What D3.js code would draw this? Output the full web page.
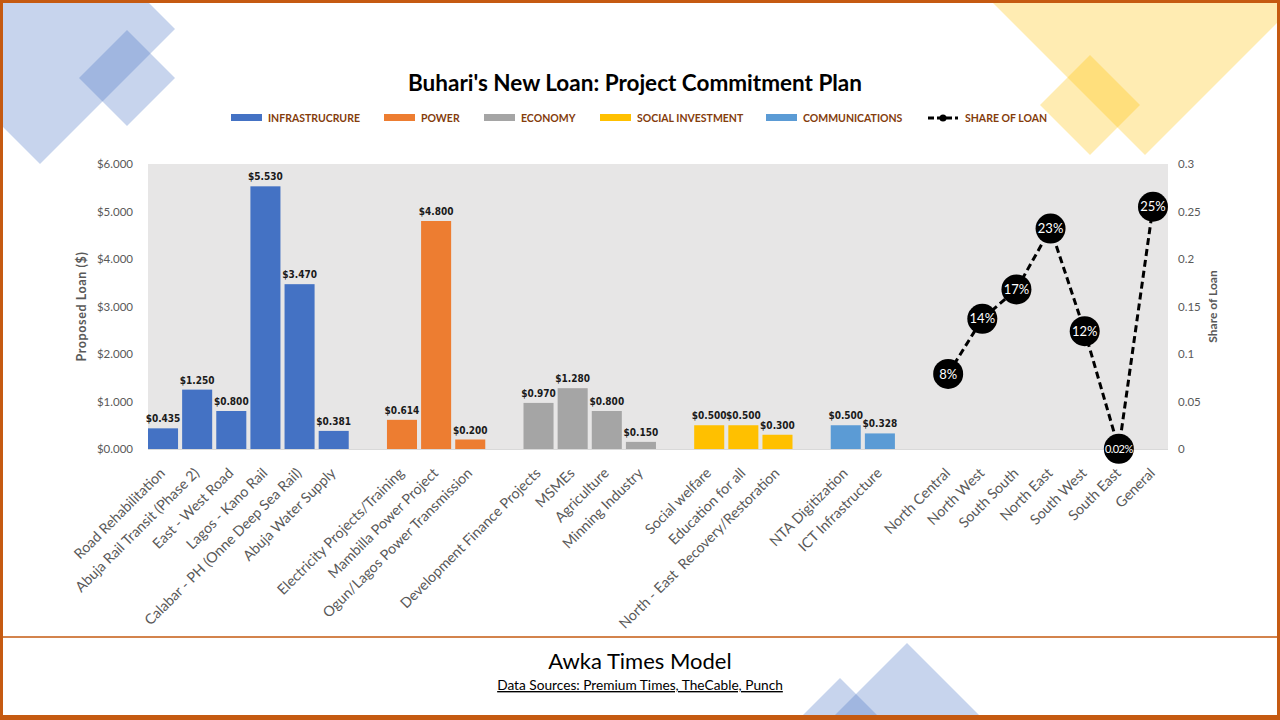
<!DOCTYPE html>
<html>
<head>
<meta charset="utf-8">
<script src="https://cdn.jsdelivr.net/npm/d3@7"></script>
<style>
  body { margin: 0; background: #fff; }
  svg { display: block; }
</style>
</head>
<body>
<svg class="chart"></svg>
<script>
    //data
    const seriesNames = ["INFRASTRUCRURE", "POWER", "ECONOMY", "SOCIAL INVESTMENT", "COMMUNICATIONS"]
    const infraProjects = ["Road Rehabilitation", "Abuja Rail Transit (Phase 2)", "East - West Road", "Lagos - Kano Rail", "Calabar - PH (Onne Deep Sea Rail)", "Abuja Water Supply"]
    const infraLoan = [0.435, 1.250, 0.800, 5.530, 3.470, 0.381]
    const powerProjects = ["Electricity Projects/Training", "Mambilla Power Project", "Ogun/Lagos Power Transmission"]
    const powerLoan = [0.614, 4.800, 0.200]
    const economyProjects = ["Development Finance Projects", "MSMEs", "Agriculture", "Minning Industry"]
    const economyLoan = [0.970, 1.280, 0.800, 0.150]
    const socialProjects = ["Social welfare", "Education for all", "North - East  Recovery/Restoration"]
    const socialLoan = [0.500, 0.500, 0.300]
    const commsProjects = ["NTA Digitization", "ICT Infrastructure"]
    const commsLoan = [0.500, 0.328]
    const regions = ["North Central", "North West", "South South", "North East", "South West", "South East", "General"]
    const shareOfLoan = [0.079, 0.137, 0.168, 0.232, 0.124, 0.0002, 0.255]
    const shareLabels = ["8%", "14%", "17%", "23%", "12%", "0.02%", "25%"]
    const loanTicks = [0, 1, 2, 3, 4, 5, 6]
    const shareTicks = [0, 0.05, 0.1, 0.15, 0.2, 0.25, 0.3]

    const seriesColors = ["#4472C4", "#ED7D31", "#A5A5A5", "#FFC000", "#5B9BD5"]

    //build one category list, an empty slot between groups
    const groups = [
        {projects: infraProjects, loan: infraLoan},
        {projects: powerProjects, loan: powerLoan},
        {projects: economyProjects, loan: economyLoan},
        {projects: socialProjects, loan: socialLoan},
        {projects: commsProjects, loan: commsLoan}
    ]
    const categories = []
    const bars = []
    groups.forEach((g, gi) => {
        g.projects.forEach((p, i) => {
            bars.push({idx: categories.length, value: g.loan[i], series: gi})
            categories.push(p)
        })
        categories.push("")
    })
    const points = regions.map((r, i) => {
        const p = {idx: categories.length, value: shareOfLoan[i], label: shareLabels[i]}
        categories.push(r)
        return p
    })

    //dimensions
    const w = 1280
    const h = 720
    const plot = {left: 148, right: 1168, top: 164, bottom: 449}

    const svg = d3.select('.chart')
        .attr('width', w)
        .attr('height', h)
        .attr('viewBox', `0 0 ${w} ${h}`)

    //background decoration
    const deco = svg.append('g')
    const diamond = (cx, cy, r) => `M${cx},${cy - r}L${cx + r},${cy}L${cx},${cy + r}L${cx - r},${cy}Z`
    deco.append('path').attr('d', diamond(40, 29, 135)).attr('fill', '#4472C4').attr('opacity', 0.3)
    deco.append('path').attr('d', diamond(127, 78, 48)).attr('fill', '#4472C4').attr('opacity', 0.3)
    deco.append('path').attr('d', diamond(1145, -25, 180)).attr('fill', '#FFC000').attr('opacity', 0.3)
    deco.append('path').attr('d', diamond(1090, 105, 50)).attr('fill', '#FFC000').attr('opacity', 0.3)
    deco.append('path').attr('d', 'M840,678L878,716L802,716Z').attr('fill', '#4472C4').attr('opacity', 0.3)
    deco.append('path').attr('d', 'M907,643L980,716L834,716Z').attr('fill', '#4472C4').attr('opacity', 0.3)

    //scales
    const xScale = d3.scaleBand()
        .domain(d3.range(categories.length))
        .range([plot.left, plot.right])
        .paddingInner(0.12)
        .paddingOuter(0)
    const yScale = d3.scaleLinear()
        .domain([0, 6])
        .range([plot.bottom, plot.top])
    const y2Scale = d3.scaleLinear()
        .domain([0, 0.3])
        .range([plot.bottom, plot.top])
    const cx = i => xScale(i) + xScale.bandwidth() / 2

    //plot area
    svg.append('rect')
        .attr('x', plot.left)
        .attr('y', plot.top)
        .attr('width', plot.right - plot.left)
        .attr('height', plot.bottom - plot.top)
        .attr('fill', '#E7E6E6')

    //axes
    const yAxis = d3.axisLeft(yScale)
        .tickValues(loanTicks)
        .tickFormat(d => '$' + d3.format('.3f')(d))
        .tickSize(0)
        .tickPadding(15)
    svg.append('g')
        .attr('transform', `translate(${plot.left}, 0)`)
        .call(yAxis)
        .call(g => g.select('.domain').remove())
        .selectAll('text')
        .attr('fill', '#595959')
        .style('font-family', 'Lato')
        .style('font-size', '11.5px')

    const y2Axis = d3.axisRight(y2Scale)
        .tickValues(shareTicks)
        .tickFormat(d => d3.format('~g')(d))
        .tickSize(0)
        .tickPadding(10)
    svg.append('g')
        .attr('transform', `translate(${plot.right}, 0)`)
        .call(y2Axis)
        .call(g => g.select('.domain').remove())
        .selectAll('text')
        .attr('fill', '#595959')
        .style('font-family', 'Lato')
        .style('font-size', '11.5px')

    svg.append('line')
        .attr('x1', plot.left)
        .attr('x2', plot.right)
        .attr('y1', plot.bottom + 0.5)
        .attr('y2', plot.bottom + 0.5)
        .attr('stroke', '#D9D9D9')

    //x labels
    svg.append('g')
        .selectAll('text')
        .data(categories)
        .join('text')
        .attr('transform', (d, i) => `translate(${cx(i) + 3}, 474) rotate(-45)`)
        .attr('text-anchor', 'end')
        .attr('fill', '#595959')
        .style('font-family', 'Lato')
        .style('font-size', '14.3px')
        .style('white-space', 'pre')
        .text(d => d)

    //bars
    svg.append('g')
        .selectAll('rect')
        .data(bars)
        .join('rect')
        .attr('x', d => xScale(d.idx))
        .attr('y', d => yScale(d.value))
        .attr('width', xScale.bandwidth())
        .attr('height', d => yScale(0) - yScale(d.value))
        .attr('fill', d => seriesColors[d.series])

    svg.append('g')
        .selectAll('text')
        .data(bars)
        .join('text')
        .attr('x', d => cx(d.idx))
        .attr('y', d => yScale(d.value) - 6)
        .attr('text-anchor', 'middle')
        .attr('fill', '#1a1a1a')
        .style('font-family', 'DejaVu Sans Condensed')
        .style('font-weight', 'bold')
        .style('font-size', '10px')
        .text(d => '$' + d3.format('.3f')(d.value))

    //share of loan line
    const line = d3.line()
        .x(d => cx(d.idx))
        .y(d => y2Scale(d.value))
    svg.append('path')
        .attr('d', line(points))
        .attr('fill', 'none')
        .attr('stroke', 'black')
        .attr('stroke-width', 3)
        .attr('stroke-dasharray', '7,4')

    const marks = svg.append('g')
        .selectAll('g')
        .data(points)
        .join('g')
        .attr('transform', d => `translate(${cx(d.idx)}, ${y2Scale(d.value)})`)
    marks.append('circle')
        .attr('r', 15)
        .attr('fill', 'black')
    marks.append('text')
        .attr('text-anchor', 'middle')
        .attr('dy', '0.35em')
        .attr('fill', 'white')
        .style('font-family', 'Lato')
        .style('font-size', d => d.label.length > 4 ? '11px' : '13px')
        .style('letter-spacing', d => d.label.length > 4 ? '-0.6px' : '0px')
        .text(d => d.label)

    //axis titles
    svg.append('text')
        .attr('transform', `translate(86, ${(plot.top + plot.bottom) / 2}) rotate(-90)`)
        .attr('text-anchor', 'middle')
        .attr('fill', '#595959')
        .style('font-family', 'Lato')
        .style('font-weight', 'bold')
        .style('font-size', '12.5px')
        .style('letter-spacing', '0.6px')
        .text('Proposed Loan ($)')
    svg.append('text')
        .attr('transform', `translate(1217, ${(plot.top + plot.bottom) / 2}) rotate(-90)`)
        .attr('text-anchor', 'middle')
        .attr('fill', '#595959')
        .style('font-family', 'Lato')
        .style('font-weight', 'bold')
        .style('font-size', '12px')
        .text('Share of Loan')

    //title
    svg.append('text')
        .attr('x', 635)
        .attr('y', 91)
        .attr('text-anchor', 'middle')
        .attr('fill', 'black')
        .style('font-family', 'Lato')
        .style('font-weight', 'bold')
        .style('font-size', '22.5px')
        .text("Buhari's New Loan: Project Commitment Plan")

    //legend
    const legendX = [231, 384, 484, 600, 766]
    const legend = svg.append('g')
    seriesNames.forEach((name, i) => {
        legend.append('rect')
            .attr('x', legendX[i])
            .attr('y', 114)
            .attr('width', 31)
            .attr('height', 7)
            .attr('fill', seriesColors[i])
        legend.append('text')
            .attr('x', legendX[i] + 37)
            .attr('y', 122)
            .attr('fill', '#843C0C')
            .style('font-family', 'Lato')
            .style('font-weight', 'bold')
            .style('font-size', '10.5px')
            .text(name)
    })
    legend.append('line')
        .attr('x1', 928).attr('x2', 958)
        .attr('y1', 118).attr('y2', 118)
        .attr('stroke', 'black')
        .attr('stroke-width', 3)
        .attr('stroke-dasharray', '6,3')
    legend.append('circle')
        .attr('cx', 943).attr('cy', 118).attr('r', 3.5)
        .attr('fill', 'black')
    legend.append('text')
        .attr('x', 965)
        .attr('y', 122)
        .attr('fill', '#843C0C')
        .style('font-family', 'Lato')
        .style('font-weight', 'bold')
        .style('font-size', '10.5px')
        .text('SHARE OF LOAN')

    //footer
    svg.append('text')
        .attr('x', 640)
        .attr('y', 669)
        .attr('text-anchor', 'middle')
        .attr('fill', 'black')
        .style('font-family', 'Lato')
        .style('font-size', '22px')
        .text('Awka Times Model')
    svg.append('text')
        .attr('x', 640)
        .attr('y', 690)
        .attr('text-anchor', 'middle')
        .attr('fill', 'black')
        .style('font-family', 'Lato')
        .style('font-size', '13.7px')
        .style('text-decoration', 'underline')
        .text('Data Sources: Premium Times, TheCable, Punch')

    //frame
    svg.append('line')
        .attr('x1', 0).attr('x2', w)
        .attr('y1', 637).attr('y2', 637)
        .attr('stroke', '#C55A11')
        .attr('stroke-width', 1.5)
    svg.append('rect')
        .attr('x', 1.5).attr('y', 1.5)
        .attr('width', w - 3).attr('height', h - 3)
        .attr('fill', 'none')
        .attr('stroke', '#C55A11')
        .attr('stroke-width', 3)
    svg.append('rect')
        .attr('x', 0).attr('y', 715)
        .attr('width', w).attr('height', 5)
        .attr('fill', '#C55A11')
</script>
</body>
</html>
